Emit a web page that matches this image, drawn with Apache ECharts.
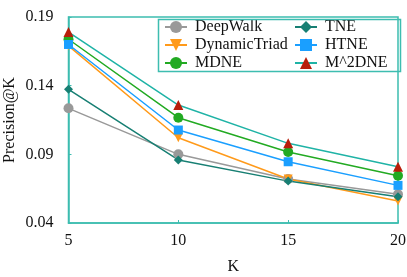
<!DOCTYPE html>
<html>
<head>
<meta charset="utf-8">
<script src="https://cdn.jsdelivr.net/npm/echarts@6/dist/echarts.min.js"></script>
<style>html,body{margin:0;padding:0;background:#fff;}#c{width:407px;height:277px;}</style>
</head>
<body>
<div id="c"></div>
<script>
var kValues = [5, 10, 15, 20];
var yTicks = [0.04, 0.09, 0.14, 0.19];
var deepWalk = [0.1235, 0.0900, 0.0720, 0.0609];
var dynamicTriad = [0.1690, 0.1021, 0.0720, 0.0560];
var mdne = [0.1738, 0.1167, 0.0917, 0.0744];
var tne = [0.1373, 0.0859, 0.0705, 0.0591];
var htne = [0.1700, 0.1077, 0.0846, 0.0674];
var m2dne = [0.1790, 0.1259, 0.0980, 0.0810];

var FONT = 'Liberation Serif';
var TEAL = '#3dbdb0';
var FS = 16;

function pairs(arr) { return kValues.map(function (k, i) { return [k, arr[i]]; }); }

function series(name, data, lineColor, markColor, symbol, size, rotate) {
  return {
    name: name, type: 'line', data: pairs(data),
    symbol: symbol, symbolSize: size, symbolRotate: rotate || 0,
    lineStyle: { color: lineColor, width: 1.5 },
    itemStyle: { color: markColor },
    emphasis: { disabled: true },
    z: 3
  };
}

var chart = echarts.init(document.getElementById('c'), null, { renderer: 'canvas' });
chart.setOption({
  animation: false,
  backgroundColor: '#fff',
  textStyle: { fontFamily: FONT },
  grid: { left: 68.5, right: 9, top: 17, bottom: 54, show: true, borderColor: TEAL, borderWidth: 1.5,
    containLabel: false, outerBoundsMode: 'none' },
  xAxis: {
    type: 'value', min: kValues[0], max: kValues[kValues.length - 1], interval: 5,
    name: 'K', nameLocation: 'middle', nameGap: 36, nameMoveOverlap: false,
    nameTextStyle: { fontFamily: FONT, fontSize: FS, color: '#111' },
    axisLine: { lineStyle: { color: TEAL, width: 1.5 } },
    axisTick: { inside: true, length: 3, lineStyle: { color: TEAL } },
    axisLabel: { fontFamily: FONT, fontSize: FS, color: '#111', margin: 10 },
    splitLine: { show: false }
  },
  yAxis: {
    type: 'value', min: yTicks[0], max: yTicks[yTicks.length - 1], interval: 0.05,
    name: 'Precision@K', nameLocation: 'middle', nameGap: 51, nameMoveOverlap: false,
    nameTextStyle: { fontFamily: FONT, fontSize: FS, color: '#111' },
    axisLine: { show: true, lineStyle: { color: TEAL, width: 1.5 } },
    axisTick: { show: true, inside: true, length: 3, lineStyle: { color: TEAL } },
    axisLabel: { fontFamily: FONT, fontSize: FS, color: '#111', margin: 15,
      formatter: function (v) { return v.toFixed(2); } },
    splitLine: { show: false }
  },
  legend: [
    { data: ['DeepWalk', 'DynamicTriad', 'MDNE'], orient: 'vertical', left: 164, top: 19,
      padding: 0, itemGap: 2, itemWidth: 22, itemHeight: 15,
      textStyle: { fontFamily: FONT, fontSize: FS, color: '#111', padding: [0, 0, 0, 3] } },
    { data: ['TNE', 'HTNE', 'M^2DNE'], orient: 'vertical', left: 294, top: 19,
      padding: 0, itemGap: 2, itemWidth: 22, itemHeight: 15,
      textStyle: { fontFamily: FONT, fontSize: FS, color: '#111', padding: [0, 0, 0, 3] } }
  ],
  graphic: [
    { type: 'rect', left: 156, top: 17, z: 10, silent: true,
      shape: { width: 242, height: 52 },
      style: { fill: 'none', stroke: TEAL, lineWidth: 1.5 } }
  ],
  series: [
    series('DeepWalk', deepWalk, '#999999', '#999999', 'circle', 10),
    series('DynamicTriad', dynamicTriad, '#ff9a1a', '#ff9a1a', 'triangle', 9, 180),
    series('MDNE', mdne, '#22aa22', '#22aa22', 'circle', 10),
    series('TNE', tne, '#177f73', '#177f73', 'diamond', 9),
    series('HTNE', htne, '#1a9fff', '#1a9fff', 'rect', 9),
    series('M^2DNE', m2dne, '#1fb3a6', '#b81d0a', 'triangle', 10)
  ]
});
</script>
</body>
</html>
